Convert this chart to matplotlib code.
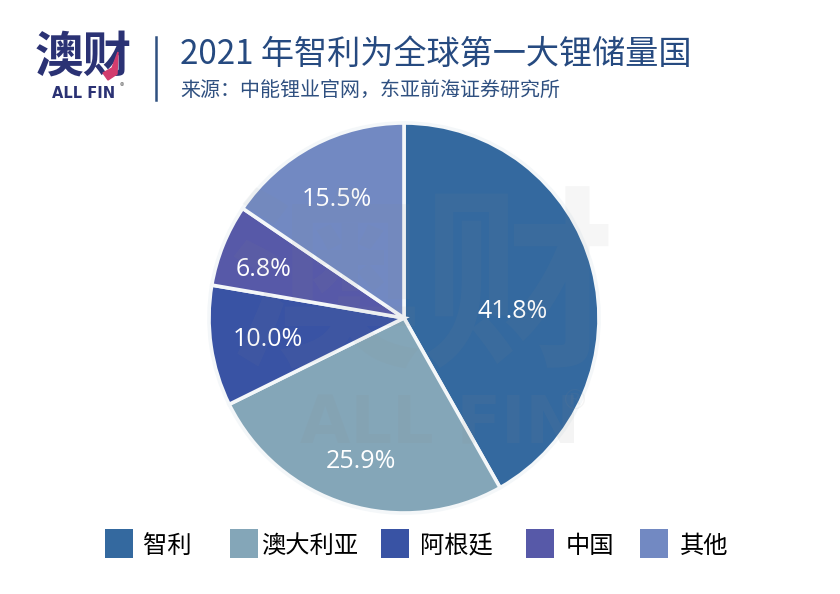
import matplotlib
matplotlib.use('Agg')
import matplotlib.pyplot as plt
from matplotlib.patches import Rectangle, Polygon

plt.rcParams['font.family'] = ['Noto Sans CJK SC', 'DejaVu Sans']

# datos del grafico
paises = ['智利', '澳大利亚', '阿根廷', '中国', '其他']
valores = [41.8, 25.9, 10.0, 6.8, 15.5]
colores = ['#34699f', '#84a6b8', '#3953a4', '#5759a8', '#7289c2']
titulo = '2021 年智利为全球第一大锂储量国'
fuente = '来源：中能锂业官网，东亚前海证券研究所'

W, H = 840, 594
fig = plt.figure(figsize=(W / 100, H / 100), dpi=100, facecolor='white')

# capa en pixeles para cabecera y leyenda
bg = fig.add_axes([0, 0, 1, 1])
bg.set_xlim(0, W); bg.set_ylim(H, 0); bg.axis('off')

# pie: centro (404, 318), radio 195 px
cx, cy, r = 404, 318, 195
ax = fig.add_axes([(cx - r) / W, 1 - (cy + r) / H, 2 * r / W, 2 * r / H])
wedges, textos, pct = ax.pie(valores, colors=colores, startangle=90, counterclock=False, radius=1,
                             wedgeprops=dict(edgecolor='#f4f7f9', linewidth=2.6),
                             autopct='%.1f%%', pctdistance=0.66,
                             textprops=dict(color='white', fontsize=18, family='Open Sans'))
ax.set_xlim(-1, 1); ax.set_ylim(-1, 1)
ax.set_aspect('equal')

# etiquetas en su sitio (px de la referencia)
pos_etq = [(513, 312), (361, 462), (268, 340), (264, 270), (337, 200)]
for t, (px, py) in zip(pct, pos_etq):
    t.set_position(((px - cx) / r, (cy - py) / r))
    t.set_va('center')

# capa superior: marca de agua
top = fig.add_axes([0, 0, 1, 1])
top.set_xlim(0, W); top.set_ylim(H, 0); top.axis('off')
top.patch.set_alpha(0)
top.text(422, 294, '澳财', fontsize=140, fontweight='bold', color='#8a8a8a', alpha=0.07,
         ha='center', va='center')
top.text(440, 426, 'ALL FIN', fontsize=47, fontweight='bold', color='#8a8a8a', alpha=0.09,
         ha='center', va='center', family='DejaVu Sans')
top.text(574, 402, '®', fontsize=20, color='#8a8a8a', alpha=0.09,
         ha='center', va='center', family='DejaVu Sans')

# logo
azul = '#2b3274'
bg.text(83, 57, '澳财', fontsize=35, fontweight='black', color=azul, ha='center', va='center')
bg.add_patch(Polygon([[118, 52], [117, 74], [108, 80], [103, 73], [112, 68]],
                     color='#d23c6e', zorder=3))
bg.text(84, 93, 'ALL FIN', fontsize=10.5, fontweight='bold', color=azul, ha='center', va='center',
        family='DejaVu Sans')
bg.text(122, 87, '®', fontsize=6.5, color='#777777', ha='center', va='center')
bg.plot([156, 156], [37, 100], color='#2f5080', linewidth=1.8)

# titulo
bg.text(180, 54, titulo, fontsize=23.9, color='#264a80', ha='left', va='center')
bg.text(180, 90, fuente, fontsize=14.4, color='#2f5080', ha='left', va='center')

# leyenda
x_cuadro = [105, 230, 381, 526, 640]
x_texto = [143, 261, 420, 566, 680]
for x, xt, nombre, c in zip(x_cuadro, x_texto, paises, colores):
    bg.add_patch(Rectangle((x, 529), 28, 29, facecolor=c, edgecolor='none'))
    bg.text(xt, 546, nombre, fontsize=17.5, color='black', ha='left', va='center')

fig.savefig('out.png', dpi=100, facecolor='white')
